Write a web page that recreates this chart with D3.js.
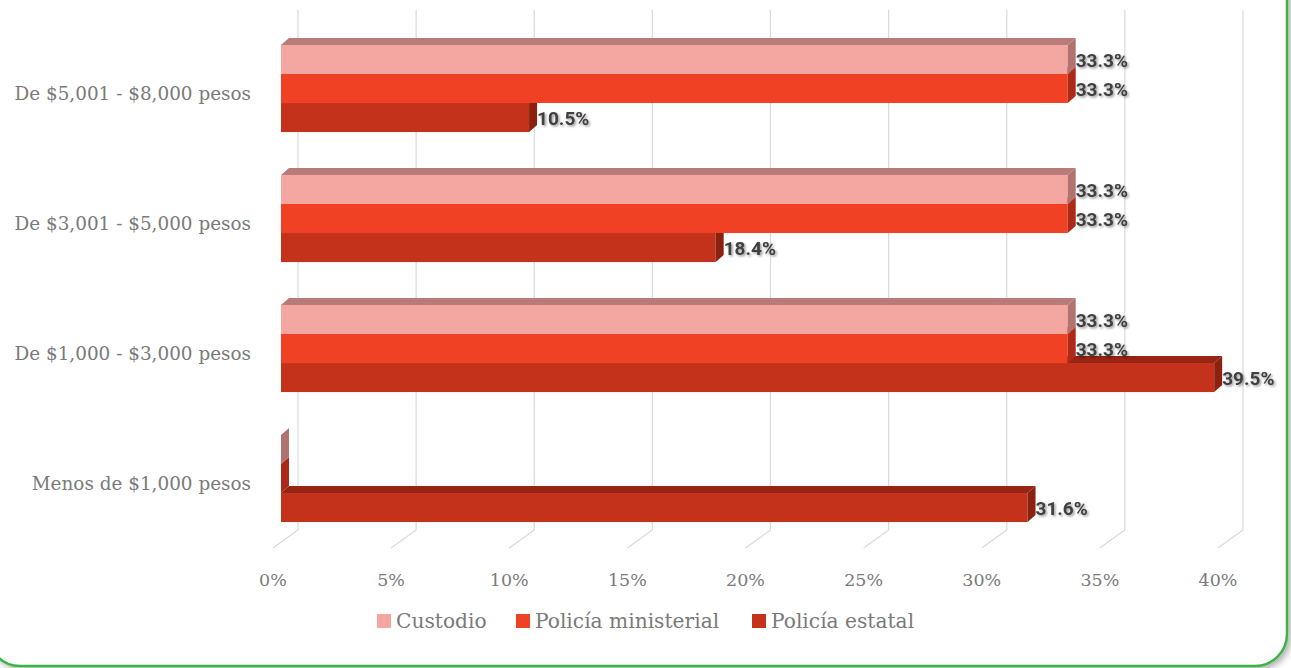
<!DOCTYPE html>
<html>
<head>
<meta charset="utf-8">
<script src="https://cdn.jsdelivr.net/npm/d3@7"></script>
<style>
  body { margin: 0; background: #fff; overflow: hidden; }
  .axisText { font-family: "DejaVu Serif", serif; fill: #7a7a7a; }
  .valText { font-family: Roboto, "Liberation Sans", sans-serif; font-weight: bold; fill: #404040; }
</style>
</head>
<body>
<div id="chart"></div>
<script>
// chart data, categories listed top to bottom as shown
var categories = ["De $5,001 - $8,000 pesos", "De $3,001 - $5,000 pesos", "De $1,000 - $3,000 pesos", "Menos de $1,000 pesos"];
var seriesNames = ["Custodio", "Policía ministerial", "Policía estatal"];
var custodio = [33.3, 33.3, 33.3, 0];
var ministerial = [33.3, 33.3, 33.3, 0];
var estatal = [10.5, 18.4, 39.5, 31.6];
var tickValues = [0, 5, 10, 15, 20, 25, 30, 35, 40];

var svgWidth = 1291;
var svgHeight = 668;

// colours: front face, top face, side face
var colors = {
  "Custodio": ["#f4a7a1", "#b97b78", "#b07470"],
  "Policía ministerial": ["#f04124", "#b52c19", "#ad2a18"],
  "Policía estatal": ["#c5321b", "#982414", "#8c2112"]
};

// 3D offsets
var barDx = 8, barDy = 7;     // bar depth
var barOff = 8;               // bar front face offset from floor front
var wallDx = 25, wallDy = 18; // floor depth

var svg = d3.select("#chart")
  .append("svg")
  .attr("width", svgWidth)
  .attr("height", svgHeight);

var defs = svg.append("defs");
var sh = defs.append("filter").attr("id", "txtShadow")
  .attr("x", "-20%").attr("y", "-30%").attr("width", "140%").attr("height", "160%");
sh.append("feDropShadow").attr("dx", 1.5).attr("dy", 1.5).attr("stdDeviation", 1.2)
  .attr("flood-color", "#000").attr("flood-opacity", 0.4);

var boxSh = defs.append("filter").attr("id", "boxShadow")
  .attr("x", "-5%").attr("y", "-5%").attr("width", "110%").attr("height", "110%");
boxSh.append("feDropShadow").attr("dx", 3).attr("dy", 3).attr("stdDeviation", 3)
  .attr("flood-color", "#000").attr("flood-opacity", 0.3);

// card border
svg.append("rect")
  .attr("x", -12).attr("y", -40)
  .attr("width", 1299).attr("height", 706)
  .attr("rx", 32).attr("ry", 32)
  .attr("fill", "#fff")
  .attr("stroke", "#3db346")
  .attr("stroke-width", 2.5)
  .attr("filter", "url(#boxShadow)");

// scales
var xScale = d3.scaleLinear().domain([0, 40]).range([273, 1218]);
var yScale = d3.scaleBand().domain(categories).range([23.5, 543.5])
  .paddingInner(0.33).paddingOuter(0.165);
var ySub = d3.scaleBand().domain(seriesNames).range([0, yScale.bandwidth()]);

var floorY = 548;
var wallTop = 10;

// back wall gridlines with floor diagonals
svg.append("g").selectAll("path")
  .data(tickValues)
  .enter()
  .append("path")
  .attr("d", function(d) {
    var x = xScale(d);
    return "M" + x + "," + floorY + "L" + (x + wallDx) + "," + (floorY - wallDy) + "L" + (x + wallDx) + "," + wallTop;
  })
  .attr("fill", "none")
  .attr("stroke", "#d9d9d9")
  .attr("stroke-width", 1.2);

// tick labels
svg.append("g").selectAll("text")
  .data(tickValues)
  .enter()
  .append("text")
  .attr("class", "axisText")
  .attr("x", d => xScale(d))
  .attr("y", 586)
  .attr("text-anchor", "middle")
  .attr("font-size", 17.5)
  .text(d => d + "%");

// category labels
svg.append("g").selectAll("text")
  .data(categories)
  .enter()
  .append("text")
  .attr("class", "axisText")
  .attr("x", 251)
  .attr("y", d => yScale(d) + yScale.bandwidth() / 2 + 11)
  .attr("text-anchor", "end")
  .attr("font-size", 18.4)
  .text(d => d);

// bars: build flat list, draw from bottom of the screen up so upper bars hide lower top faces
var bars = [];
var seriesData = { "Custodio": custodio, "Policía ministerial": ministerial, "Policía estatal": estatal };
categories.forEach(function(c, i) {
  seriesNames.forEach(function(s) {
    bars.push({ cat: c, series: s, value: seriesData[s][i] });
  });
});
bars.forEach(function(b) { b.y = yScale(b.cat) + ySub(b.series); });
bars.sort(function(a, b) { return b.y - a.y; });

var barGroup = svg.append("g");
bars.forEach(function(b) {
  var g = barGroup.append("g");
  var x0 = xScale(0) + barOff;
  var x1 = xScale(b.value) + barOff;
  var y0 = b.y, h = ySub.bandwidth();
  var col = colors[b.series];
  // top face
  g.append("path")
    .attr("d", "M" + x0 + "," + y0 + "L" + (x0 + barDx) + "," + (y0 - barDy) + "L" + (x1 + barDx) + "," + (y0 - barDy) + "L" + x1 + "," + y0 + "Z")
    .attr("fill", col[1]);
  // front face
  g.append("rect")
    .attr("x", x0).attr("y", y0)
    .attr("width", x1 - x0).attr("height", h)
    .attr("fill", col[0]);
  // side face
  g.append("path")
    .attr("d", "M" + x1 + "," + y0 + "L" + (x1 + barDx) + "," + (y0 - barDy) + "L" + (x1 + barDx) + "," + (y0 + h - barDy) + "L" + x1 + "," + (y0 + h) + "Z")
    .attr("fill", col[2]);
});

// value labels
svg.append("g").selectAll("text")
  .data(bars.filter(b => b.value > 0))
  .enter()
  .append("text")
  .attr("class", "valText")
  .attr("x", d => xScale(d.value) + barOff + barDx)
  .attr("y", d => d.y + ySub.bandwidth() / 2 + 1)
  .attr("dominant-baseline", "central")
  .attr("font-size", 19)
  .attr("filter", "url(#txtShadow)")
  .text(d => d.value.toFixed(1) + "%");

// legend
var legendX = [377, 516, 752];
var legend = svg.append("g").selectAll("g")
  .data(seriesNames)
  .enter()
  .append("g")
  .attr("transform", (d, i) => `translate(${legendX[i]}, 621)`);

legend.append("rect")
  .attr("x", 0).attr("y", -7)
  .attr("width", 14).attr("height", 14)
  .attr("fill", d => colors[d][0]);

legend.append("text")
  .attr("class", "axisText")
  .attr("x", 19)
  .attr("y", 7)
  .attr("font-size", 20.2)
  .attr("fill", "#6b6b6b")
  .text(d => d);
</script>
</body>
</html>
